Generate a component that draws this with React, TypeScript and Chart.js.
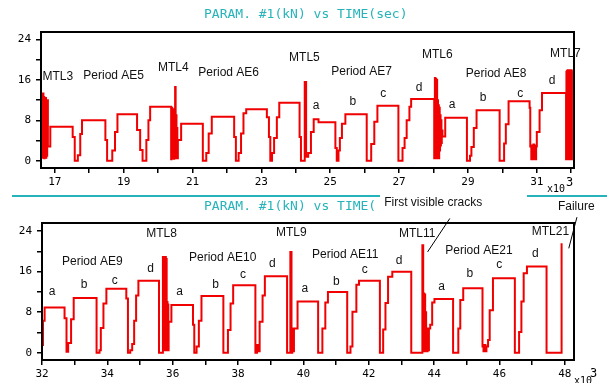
import React, { useEffect, useRef } from "react";
import { Chart, registerables } from "chart.js";

Chart.register(...registerables);

// ---------- data (time in 10^3 s, load in kN) ----------
const topTimes = [
  16.63, 16.645, 16.655, 16.67, 16.68, 16.695, 16.705, 16.72, 16.73, 16.745, 16.755, 16.77, 16.78, 16.8, 16.87,
  17.52, 17.58, 17.67, 17.74, 17.79,
  18.47, 18.52, 18.67, 18.75, 18.82,
  19.39, 19.48, 19.55, 19.66, 19.72, 19.77,
  20.38, 20.395, 20.41, 20.42, 20.435, 20.445, 20.46, 20.47, 20.485, 20.495, 20.51, 20.52, 20.535, 20.545, 20.56, 20.575, 20.67,
  21.3, 21.4, 21.47, 21.56,
  22.21, 22.26, 22.34, 22.41, 22.48, 22.56,
  23.16, 23.22, 23.26, 23.31, 23.37, 23.45, 23.52,
  24.11, 24.15, 24.26, 24.3, 24.36, 24.44, 24.52, 24.66,
  25.15, 25.19, 25.24, 25.28, 25.34, 25.44,
  26.06, 26.19, 26.28, 26.37,
  26.98, 27.1, 27.16, 27.22, 27.3, 27.35,
  28.02, 28.04, 28.055, 28.065, 28.08, 28.09, 28.105, 28.115, 28.13, 28.14, 28.155, 28.165, 28.18, 28.19, 28.205, 28.215, 28.23, 28.24, 28.26, 28.34,
  28.97, 29.06, 29.1, 29.17, 29.25,
  29.92, 30.05, 30.1, 30.18,
  30.79, 30.81, 30.84, 30.86, 30.88, 30.9, 30.92, 30.94, 30.96, 30.98, 31.0, 31.08, 31.15,
  31.85, 31.86, 31.87, 31.88, 31.89, 31.9, 31.91, 31.92, 31.93, 31.94, 31.95, 31.96, 31.97, 31.98, 31.99, 32.0, 32.01, 32.02,
];
const topLoads = [
  12.9, 0.6, 13.3, 1.2, 12.6, 0.5, 12.2, 2.0, 12.4, 0.6, 11.8, 1.0, 12.0, 2.8, 6.7,
  4.7, 0, 1.1, 5.3, 8.0,
  4.1, 0, 2.0, 5.7, 9.2,
  6.1, 2.1, 0, 4.1, 8.0, 10.7,
  0.3, 10.5, 0.5, 9.8, 0.8, 10.2, 0.4, 9.5, 1.0, 14.6, 0.5, 9.0, 0.8, 6.5, 0.5, 4.1, 7.3,
  0, 1.5, 5.4, 8.7,
  4.7, 0, 1.5, 5.4, 9.4, 10.2,
  8.6, 4.7, 0, 1.5, 4.5, 8.6, 11.5,
  4.7, 0, 15.6, 0.8, 1.5, 5.7, 8.2, 7.6,
  2.5, 0, 2.0, 4.5, 7.3, 9.2,
  0, 3.3, 7.7, 10.9,
  0, 2.5, 4.5, 8.0, 10.7, 12.2,
  0.5, 16.4, 0.5, 16.2, 1.0, 16.0, 0.5, 12.0, 1.5, 11.0, 0.5, 10.5, 2.0, 9.0, 3.0, 8.0, 3.5, 6.0, 4.8, 8.5,
  0, 1.0, 2.7, 6.5, 10.0,
  0, 3.4, 7.2, 11.8,
  10.5, 2.8, 0.3, 3.0, 0.3, 3.2, 0.5, 3.0, 0.3, 2.8, 5.7, 10.0, 13.4,
  0.3, 17.6, 0.4, 17.8, 0.3, 17.9, 0.5, 17.7, 0.3, 17.9, 0.4, 17.8, 0.3, 17.9, 0.5, 17.9, 0.3, 17.9,
];

const bottomTimes = [
  32.0, 32.03, 32.08, 32.69, 32.75, 32.8, 32.89, 32.97, 33.67, 33.76, 33.8, 33.88, 33.97, 34.58, 34.63, 34.7, 34.76, 34.82, 34.88, 34.95, 35.58,
  35.7, 35.715, 35.725, 35.74, 35.75, 35.765, 35.775, 35.79, 35.8, 35.815, 35.825, 35.84, 35.85, 35.865, 35.875, 35.96,
  36.62, 36.66, 36.73, 36.8, 36.88, 37.55, 37.69, 37.77, 37.85, 38.53, 38.58, 38.62, 38.66, 38.75, 38.82, 39.5,
  39.6, 39.635, 39.66, 39.68, 39.71, 39.82,
  40.45, 40.58, 40.67, 40.75, 41.34, 41.44, 41.5, 41.62, 41.7, 42.34, 42.44, 42.51, 42.59, 42.72, 43.3,
  43.64, 43.665, 43.68, 43.695, 43.71, 43.725, 43.74, 43.755, 43.77, 43.785, 43.8, 43.82, 43.84, 43.88, 43.94, 44.01,
  44.58, 44.74, 44.8, 44.89, 45.48, 45.51, 45.54, 45.57, 45.6, 45.65, 45.7, 45.8, 46.47, 46.6, 46.67, 46.74, 46.84, 47.44, 47.9,
];
const bottomLoads = [
  1.5, 6.3, 8.9, 6.8, 0.2, 1.9, 6.6, 10.8, 0, 0.5, 4.9, 9.7, 12.6, 10.7, 0, 0.5, 1.7, 6.3, 11.3, 14.2, 0,
  18.9, 0.5, 18.9, 1.0, 18.7, 0.5, 18.9, 1.5, 18.5, 0.5, 10.0, 1.0, 9.5, 0.5, 6.1, 9.4,
  5.5, 0, 1.2, 6.3, 11.2, 0, 4.5, 9.7, 13.3, 0, 1.5, 0.3, 6.1, 11.3, 15.1, 0,
  19.9, 0, 4.8, 0.3, 4.8, 10.1,
  0, 4.8, 9.9, 12.0, 0, 1.2, 8.1, 13.4, 14.2, 0, 4.6, 9.8, 15.0, 16.0, 0,
  21.2, 0.3, 11.7, 0.3, 11.5, 0.5, 8.0, 0.3, 4.8, 0.3, 4.8, 0.5, 4.8, 5.5, 9.9, 10.6,
  0, 4.8, 10.4, 12.7, 1.2, 0.3, 1.5, 0.3, 1.2, 2.5, 8.4, 14.7, 0, 4.1, 10.1, 15.7, 17.0, 0, 21.6,
];

const topLabeledTicks = [17, 19, 21, 23, 25, 27, 29, 31];
const topMinorTicks = [18, 20, 22, 24, 26, 28, 30, 32];
const bottomLabeledTicks = [32, 34, 36, 38, 40, 42, 44, 46, 48];
const bottomMinorTicks = [33, 35, 37, 39, 41, 43, 45, 47];
const yLabeledTicks = [0, 8, 16, 24];
const yMinorTicks = [4, 12, 20];

const titleText = "PARAM. #1(kN) vs TIME(sec)";
const bottomTitleText = "PARAM. #1(kN) vs TIME(";

// annotations: [text, time, load]
const topNotes: [string, number, number][] = [
  ["MTL3", 17.09, 16.7],
  ["Period AE5", 18.71, 16.9],
  ["MTL4", 20.44, 18.5],
  ["Period AE6", 22.05, 17.5],
  ["MTL5", 24.25, 20.45],
  ["Period AE7", 25.91, 17.7],
  ["a", 24.59, 10.8],
  ["b", 25.66, 11.6],
  ["c", 26.54, 13.35],
  ["d", 27.58, 14.5],
  ["MTL6", 28.11, 21.05],
  ["Period AE8", 29.82, 17.3],
  ["a", 28.54, 11.0],
  ["b", 29.44, 12.4],
  ["c", 30.52, 13.35],
  ["d", 31.44, 15.9],
  ["MTL7", 31.83, 21.3],
];
const bottomNotes: [string, number, number][] = [
  ["MTL8", 35.66, 23.4],
  ["Period AE9", 33.54, 17.95],
  ["a", 32.31, 12.0],
  ["b", 33.29, 13.35],
  ["c", 34.23, 14.2],
  ["d", 35.32, 16.5],
  ["Period AE10", 37.53, 18.7],
  ["a", 36.21, 12.0],
  ["b", 37.31, 13.35],
  ["c", 38.15, 15.3],
  ["d", 39.05, 17.6],
  ["MTL9", 39.63, 23.7],
  ["a", 40.04, 12.55],
  ["Period AE11", 41.28, 19.3],
  ["b", 41.01, 14.0],
  ["c", 41.88, 16.3],
  ["d", 42.93, 18.15],
  ["MTL11", 43.48, 23.55],
  ["Period AE21", 45.37, 20.06],
  ["a", 44.23, 13.0],
  ["b", 45.09, 15.5],
  ["c", 45.99, 17.3],
  ["d", 47.1, 19.6],
  ["MTL21", 47.56, 23.87],
  ["First visible cracks", 43.97, 29.6],
  ["Failure", 48.35, 28.8],
];
const bottomLeaders: [number, number, number, number][] = [
  [44.48, 26.5, 43.8, 19.9],
  [48.37, 26.75, 48.12, 20.6],
];

const RED = "#f00000";
const CYAN = "#26b4ba";

type Expo = { dx: number; dy: number; sx: number; sy: number };

function makeDecor(notes: [string, number, number][], leaders: [number, number, number, number][], expo: Expo) {
  return {
    id: "decor",
    afterDraw(chart: any) {
      const { ctx, chartArea: a, scales } = chart;
      const xs = scales.x;
      const ys = scales.y;
      ctx.save();
      ctx.strokeStyle = "#000";
      ctx.lineWidth = 2;
      ctx.strokeRect(a.left, a.top, a.right - a.left, a.bottom - a.top);
      ctx.fillStyle = "#111";
      ctx.font = '12px "Liberation Sans", Arial, sans-serif';
      ctx.textAlign = "center";
      ctx.textBaseline = "middle";
      notes.forEach(([t, x, y]) => {
        ctx.fillText(t, xs.getPixelForValue(x), ys.getPixelForValue(y));
      });
      ctx.lineWidth = 1;
      leaders.forEach(([x1, y1, x2, y2]) => {
        ctx.beginPath();
        ctx.moveTo(xs.getPixelForValue(x1), ys.getPixelForValue(y1));
        ctx.lineTo(xs.getPixelForValue(x2), ys.getPixelForValue(y2));
        ctx.stroke();
      });
      ctx.fillStyle = "#000";
      ctx.textAlign = "left";
      ctx.font = '10px "DejaVu Sans Mono", monospace';
      ctx.fillText("x10", a.right + expo.dx, a.bottom + expo.dy);
      ctx.font = '12px "DejaVu Sans Mono", monospace';
      ctx.fillText("3", a.right + expo.dx + expo.sx, a.bottom + expo.dy + expo.sy);
      ctx.restore();
    },
  };
}

function buildConfig(
  times: number[],
  loads: number[],
  xr: [number, number],
  yr: [number, number],
  xLabeled: number[],
  xMinor: number[],
  pad: any,
  yW: number,
  xH: number,
  plugin: any
): any {
  const n = Math.min(times.length, loads.length);
  const points = [] as { x: number; y: number }[];
  for (let i = 0; i < n; i++) points.push({ x: times[i], y: loads[i] });
  const xTicks = [...xLabeled, ...xMinor].sort((p, q) => p - q);
  const yTicks = [...yLabeledTicks, ...yMinorTicks].sort((p, q) => p - q);
  const tickFont = { family: '"DejaVu Sans Mono", monospace', size: 11 };
  return {
    type: "line",
    data: {
      datasets: [
        {
          data: points,
          borderColor: RED,
          borderWidth: 2,
          pointRadius: 0,
          stepped: "before",
          fill: false,
          tension: 0,
        },
      ],
    },
    options: {
      animation: false,
      responsive: false,
      maintainAspectRatio: false,
      devicePixelRatio: 1,
      events: [],
      layout: { padding: pad },
      plugins: { legend: { display: false }, tooltip: { enabled: false }, title: { display: false } },
      scales: {
        x: {
          type: "linear",
          min: xr[0],
          max: xr[1],
          afterBuildTicks: (s: any) => {
            s.ticks = xTicks.map((v) => ({ value: v }));
          },
          afterFit: (s: any) => {
            s.height = xH;
          },
          grid: { drawOnChartArea: false, drawTicks: true, tickLength: 5, color: "#000", lineWidth: 1.5 },
          border: { display: false },
          ticks: {
            autoSkip: false,
            maxRotation: 0,
            padding: 3,
            color: "#000",
            font: tickFont,
            callback: (v: number) => (xLabeled.includes(v) ? String(v) : ""),
          },
        },
        y: {
          type: "linear",
          min: yr[0],
          max: yr[1],
          afterBuildTicks: (s: any) => {
            s.ticks = yTicks.map((v) => ({ value: v }));
          },
          afterFit: (s: any) => {
            s.width = yW;
          },
          grid: { drawOnChartArea: false, drawTicks: true, tickLength: 5, color: "#000", lineWidth: 1.5 },
          border: { display: false },
          ticks: {
            autoSkip: false,
            padding: 5,
            color: "#000",
            font: tickFont,
            callback: (v: number) => (yLabeledTicks.includes(v) ? String(v) : ""),
          },
        },
      },
    },
    plugins: [plugin],
  };
}

export default function App() {
  const topRef = useRef<HTMLCanvasElement>(null);
  const botRef = useRef<HTMLCanvasElement>(null);

  useEffect(() => {
    const top = new Chart(
      topRef.current as HTMLCanvasElement,
      buildConfig(
        topTimes,
        topLoads,
        [16.6, 32.08],
        [-1.45, 25.5],
        topLabeledTicks,
        topMinorTicks,
        { left: 0, right: 33, top: 32, bottom: 0 },
        41,
        28,
        makeDecor(topNotes, [], { dx: -27, dy: 21, sx: 19, sy: -6 })
      )
    );
    const bot = new Chart(
      botRef.current as HTMLCanvasElement,
      buildConfig(
        bottomTimes,
        bottomLoads,
        [32, 48.28],
        [-1.44, 25.6],
        bottomLabeledTicks,
        bottomMinorTicks,
        { left: 0, right: 33, top: 27, bottom: 0 },
        42,
        23,
        makeDecor(bottomNotes, bottomLeaders, { dx: 0, dy: 21, sx: 16, sy: -7.5 })
      )
    );
    return () => {
      top.destroy();
      bot.destroy();
    };
  }, []);

  const mono = '"DejaVu Sans Mono", monospace';
  return (
    <div style={{ position: "absolute", left: 0, top: 0, width: 607, height: 383, background: "#fff", overflow: "hidden" }}>
      <canvas ref={topRef} width={607} height={196} style={{ position: "absolute", left: 0, top: 0 }} />
      <canvas ref={botRef} width={607} height={187} style={{ position: "absolute", left: 0, top: 196 }} />
      <div style={{ position: "absolute", left: 204, top: 7, font: `13px ${mono}`, lineHeight: "13px", color: CYAN, whiteSpace: "nowrap" }}>
        {titleText}
      </div>
      <div style={{ position: "absolute", left: 204, top: 199, font: `13px ${mono}`, lineHeight: "13px", color: CYAN, whiteSpace: "nowrap" }}>
        {bottomTitleText}
      </div>
      <div style={{ position: "absolute", left: 12, top: 195, width: 368, height: 2, background: CYAN }} />
      <div style={{ position: "absolute", left: 527, top: 195, width: 80, height: 2, background: CYAN }} />
    </div>
  );
}
